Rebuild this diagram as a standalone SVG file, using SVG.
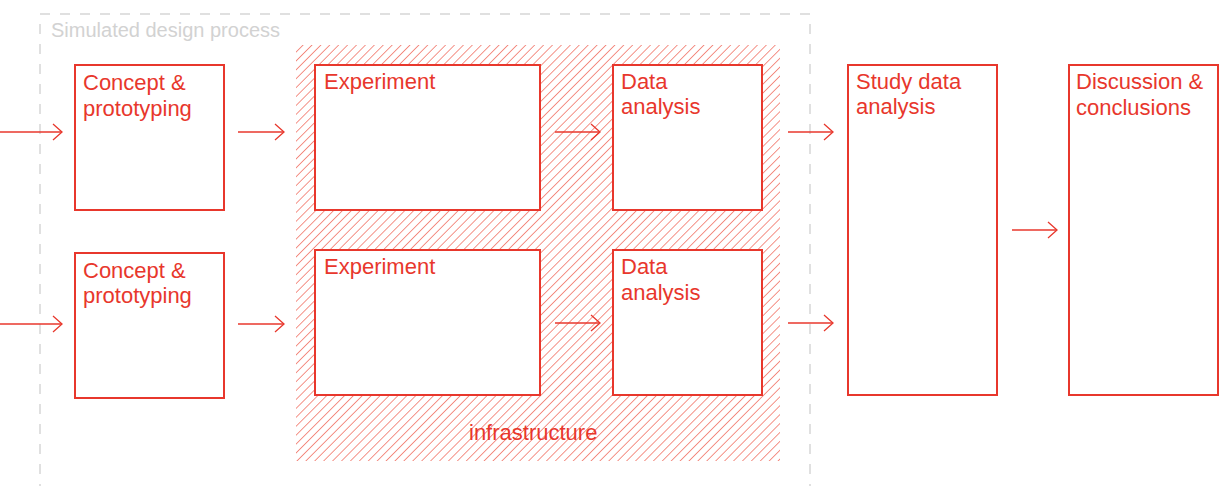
<svg xmlns="http://www.w3.org/2000/svg" width="1222" height="486" viewBox="0 0 1222 486">
<style>
.box{fill:#fff;stroke:#e8372c;stroke-width:2}
.lbl{font-family:"Liberation Sans",Arial,sans-serif;font-size:22px;fill:#e8372c}
.arr{stroke:#e8372c;stroke-width:1.3;fill:none}
</style>
<defs>
<pattern id="hatch" patternUnits="userSpaceOnUse" width="6.3" height="6.3" patternTransform="rotate(45)">
<line x1="0" y1="-1" x2="0" y2="7.3" stroke="#f3877c" stroke-width="1" shape-rendering="crispEdges"/>
</pattern>
<marker id="ah" markerWidth="12" markerHeight="20" refX="10" refY="10" orient="auto" markerUnits="userSpaceOnUse">
<path d="M1,2 L10,10 L1,18" fill="none" stroke="#e8372c" stroke-width="1.3"/>
</marker>
</defs>
<rect width="1222" height="486" fill="#fff"/>
<g id="container">
<rect x="40" y="14" width="770" height="490" fill="none" stroke="#d6d6d6" stroke-width="1.5" stroke-dasharray="10,10"/>
<text x="51" y="37" style="font-family:'Liberation Sans',Arial,sans-serif;font-size:20px;fill:#d2d2d2">Simulated design process</text>
</g>
<g id="infrastructure">
<rect x="296" y="45" width="484" height="416" fill="url(#hatch)"/>
<text class="lbl" x="469" y="440">infrastructure</text>
</g>
<g id="connectors">
<line class="arr" x1="0" y1="132" x2="62" y2="132" marker-end="url(#ah)"/>
<line class="arr" x1="0" y1="324" x2="62" y2="324" marker-end="url(#ah)"/>
<line class="arr" x1="238" y1="132" x2="284" y2="132" marker-end="url(#ah)"/>
<line class="arr" x1="238" y1="324" x2="284" y2="324" marker-end="url(#ah)"/>
<line class="arr" x1="555" y1="132" x2="600" y2="132" marker-end="url(#ah)"/>
<line class="arr" x1="555" y1="323" x2="600" y2="323" marker-end="url(#ah)"/>
<line class="arr" x1="788" y1="132" x2="833" y2="132" marker-end="url(#ah)"/>
<line class="arr" x1="788" y1="323" x2="833" y2="323" marker-end="url(#ah)"/>
<line class="arr" x1="1012" y1="230" x2="1057" y2="230" marker-end="url(#ah)"/>
</g>
<g id="concept1"><rect class="box" x="75" y="65" width="149" height="145"/><text class="lbl" x="83" y="90">Concept &amp;</text><text class="lbl" x="83" y="116">prototyping</text></g>
<g id="concept2"><rect class="box" x="75" y="253" width="149" height="145"/><text class="lbl" x="83" y="278">Concept &amp;</text><text class="lbl" x="83" y="303">prototyping</text></g>
<g id="experiment1"><rect class="box" x="315" y="65" width="225" height="145"/><text class="lbl" x="324" y="89">Experiment</text></g>
<g id="experiment2"><rect class="box" x="315" y="250" width="225" height="145"/><text class="lbl" x="324" y="274">Experiment</text></g>
<g id="data1"><rect class="box" x="613" y="65" width="149" height="145"/><text class="lbl" x="621" y="89">Data</text><text class="lbl" x="621" y="114">analysis</text></g>
<g id="data2"><rect class="box" x="613" y="250" width="149" height="145"/><text class="lbl" x="621" y="274">Data</text><text class="lbl" x="621" y="300">analysis</text></g>
<g id="study"><rect class="box" x="848" y="65" width="149" height="330"/><text class="lbl" x="856" y="89">Study data</text><text class="lbl" x="856" y="114">analysis</text></g>
<g id="discussion"><rect class="box" x="1069" y="65" width="149" height="330"/><text class="lbl" x="1076" y="89">Discussion &amp;</text><text class="lbl" x="1076" y="115">conclusions</text></g>
</svg>
